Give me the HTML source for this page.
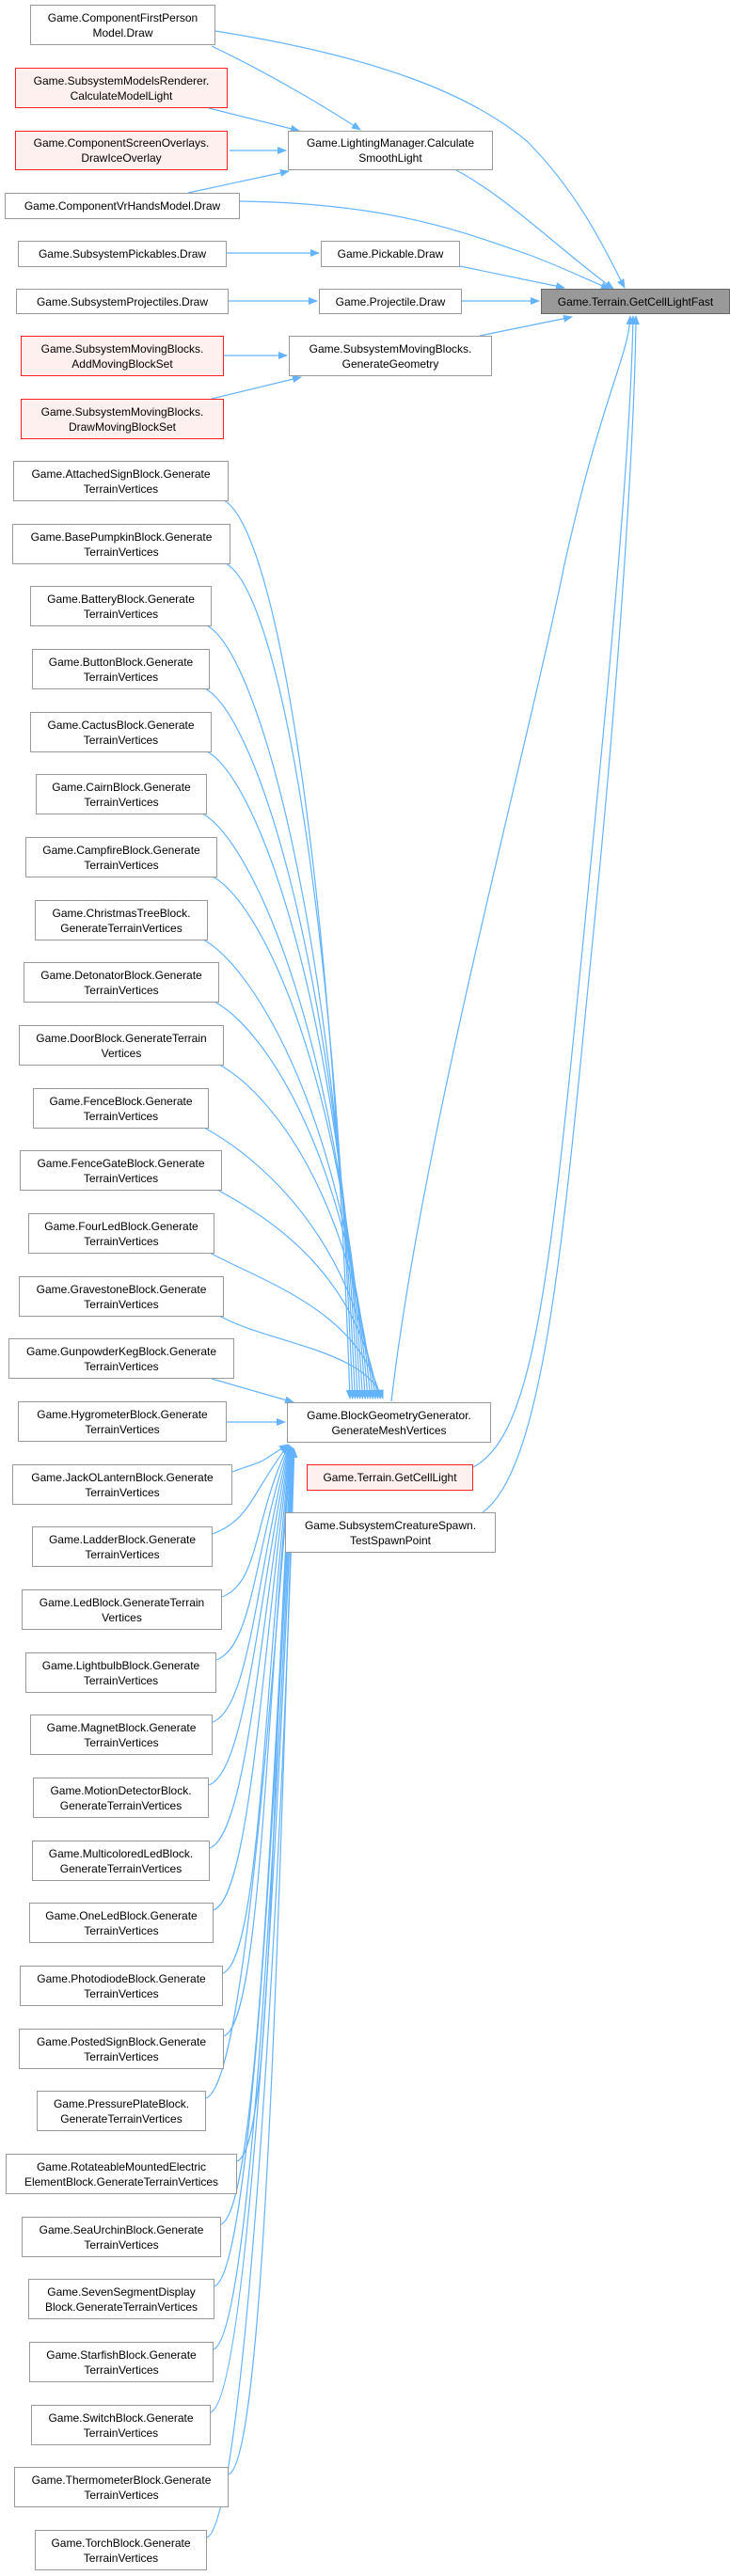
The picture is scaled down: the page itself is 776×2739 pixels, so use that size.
<!DOCTYPE html>
<html><head><meta charset="utf-8"><style>
html,body{margin:0;padding:0;background:#fff;}
body{width:776px;height:2739px;position:relative;overflow:hidden;font-family:"Liberation Sans",Arial,sans-serif;}
.b{position:absolute;box-sizing:border-box;border:1px solid #999;background:#fff;font-size:12px;line-height:16px;color:#000;text-align:center;display:flex;align-items:center;justify-content:center;white-space:nowrap;}
.r{border-color:#ff2020;background:#fff0f0;}
.g{background:#999;border-color:#666;}
svg{position:absolute;left:0;top:0;}
</style></head><body>
<svg width="776" height="2739" viewBox="0 0 776 2739">
<defs><marker id="a" markerWidth="10" markerHeight="8" refX="9" refY="4" orient="auto" markerUnits="userSpaceOnUse"><path d="M0,0 L10,4 L0,8 z" fill="#63b3ff"/></marker></defs>
<g fill="none" stroke="#63b3ff" stroke-width="1.2" marker-end="url(#a)">
<path d="M229,33 C400,60 500,100 560,150 C620,210 650,280 664,306"/>
<path d="M225,49 C280,75 340,110 383,138"/>
<path d="M222,115 L318,139"/>
<path d="M244,160 L304,160"/>
<path d="M200,205 L307,182"/>
<path d="M255,214 C420,216 500,250 560,270 C600,285 630,300 648,307"/>
<path d="M485,181 C540,210 600,270 652,307"/>
<path d="M241,269 L339,269"/>
<path d="M489,283 L600,306"/>
<path d="M243,320 L337,320"/>
<path d="M491,320 L573,320"/>
<path d="M238,378 L305,378"/>
<path d="M225,424 L320,401"/>
<path d="M510,357 L608,337"/>
<path d="M416,1490 C450,1200 560,800 600,600 C640,420 668,380 670,336"/>
<path d="M503,1560 C560,1530 580,1400 610,1100 C640,800 670,500 673,336"/>
<path d="M513,1608 C580,1560 600,1300 630,1000 C660,700 675,450 676,336"/>
</g>
<g id="lc" fill="none" stroke="#63b3ff" stroke-width="1.2" marker-end="url(#a)"></g>
</svg>
<div class="b" style="left:32px;top:5px;width:197px;height:43px">Game.ComponentFirstPerson<br>Model.Draw</div>
<div class="b r" style="left:16px;top:72px;width:226px;height:43px">Game.SubsystemModelsRenderer.<br>CalculateModelLight</div>
<div class="b r" style="left:16px;top:139px;width:226px;height:42px">Game.ComponentScreenOverlays.<br>DrawIceOverlay</div>
<div class="b" style="left:5px;top:205px;width:250px;height:28px">Game.ComponentVrHandsModel.Draw</div>
<div class="b" style="left:19px;top:256px;width:222px;height:28px">Game.SubsystemPickables.Draw</div>
<div class="b" style="left:17px;top:307px;width:226px;height:27px">Game.SubsystemProjectiles.Draw</div>
<div class="b r" style="left:22px;top:357px;width:216px;height:43px">Game.SubsystemMovingBlocks.<br>AddMovingBlockSet</div>
<div class="b r" style="left:22px;top:424px;width:216px;height:43px">Game.SubsystemMovingBlocks.<br>DrawMovingBlockSet</div>
<div class="b" style="left:306px;top:139px;width:218px;height:42px">Game.LightingManager.Calculate<br>SmoothLight</div>
<div class="b" style="left:341px;top:256px;width:148px;height:28px">Game.Pickable.Draw</div>
<div class="b" style="left:339px;top:307px;width:152px;height:27px">Game.Projectile.Draw</div>
<div class="b" style="left:307px;top:357px;width:216px;height:43px">Game.SubsystemMovingBlocks.<br>GenerateGeometry</div>
<div class="b g" style="left:575px;top:307px;width:201px;height:27px">Game.Terrain.GetCellLightFast</div>
<div class="b" style="left:305px;top:1491px;width:217px;height:43px">Game.BlockGeometryGenerator.<br>GenerateMeshVertices</div>
<div class="b r" style="left:326px;top:1557px;width:177px;height:28px">Game.Terrain.GetCellLight</div>
<div class="b" style="left:303px;top:1608px;width:224px;height:43px">Game.SubsystemCreatureSpawn.<br>TestSpawnPoint</div>
<div id="col"></div>
<script>
var L=[["Game.AttachedSignBlock.Generate","TerrainVertices",14,243],["Game.BasePumpkinBlock.Generate","TerrainVertices",13,245],["Game.BatteryBlock.Generate","TerrainVertices",32,225],["Game.ButtonBlock.Generate","TerrainVertices",34,223],["Game.CactusBlock.Generate","TerrainVertices",32,225],["Game.CairnBlock.Generate","TerrainVertices",38,220],["Game.CampfireBlock.Generate","TerrainVertices",27,231],["Game.ChristmasTreeBlock.","GenerateTerrainVertices",37,221],["Game.DetonatorBlock.Generate","TerrainVertices",25,233],["Game.DoorBlock.GenerateTerrain","Vertices",20,238],["Game.FenceBlock.Generate","TerrainVertices",35,222],["Game.FenceGateBlock.Generate","TerrainVertices",21,236],["Game.FourLedBlock.Generate","TerrainVertices",30,228],["Game.GravestoneBlock.Generate","TerrainVertices",20,238],["Game.GunpowderKegBlock.Generate","TerrainVertices",9,249],["Game.HygrometerBlock.Generate","TerrainVertices",19,241],["Game.JackOLanternBlock.Generate","TerrainVertices",13,247],["Game.LadderBlock.Generate","TerrainVertices",34,226],["Game.LedBlock.GenerateTerrain","Vertices",23,236],["Game.LightbulbBlock.Generate","TerrainVertices",27,230],["Game.MagnetBlock.Generate","TerrainVertices",32,226],["Game.MotionDetectorBlock.","GenerateTerrainVertices",35,222],["Game.MulticoloredLedBlock.","GenerateTerrainVertices",34,223],["Game.OneLedBlock.Generate","TerrainVertices",31,227],["Game.PhotodiodeBlock.Generate","TerrainVertices",21,237],["Game.PostedSignBlock.Generate","TerrainVertices",20,238],["Game.PressurePlateBlock.","GenerateTerrainVertices",39,219],["Game.RotateableMountedElectric","ElementBlock.GenerateTerrainVertices",6,252],["Game.SeaUrchinBlock.Generate","TerrainVertices",23,235],["Game.SevenSegmentDisplay","Block.GenerateTerrainVertices",30,228],["Game.StarfishBlock.Generate","TerrainVertices",31,227],["Game.SwitchBlock.Generate","TerrainVertices",33,224],["Game.ThermometerBlock.Generate","TerrainVertices",15,243],["Game.TorchBlock.Generate","TerrainVertices",37,220]];
var h="",p="";
for(var i=0;i<L.length;i++){var t=Math.round(490+i*66.67),x=L[i][2],w=L[i][3]-x,rx=L[i][3];
h+='<div class="b" style="left:'+x+'px;top:'+t+'px;width:'+w+'px;height:43px">'+L[i][0]+'<br>'+L[i][1]+'</div>';
var d;
if(i<14){var ex=372+i*2.7,sy=t+42;d="M"+(rx-5)+","+sy+" C"+(rx+50)+","+(sy+30)+" "+(ex-20)+","+(sy+(1488-sy)*0.4)+" "+ex+",1487";}
else if(i==14){d="M225,"+(t+43)+" L312,1491";}
else if(i==15){d="M241,1512 L303,1512";}
else{var sy2=t+8,ey=1536+(i-16)*0.3;d="M"+rx+","+sy2+" C"+(rx+40)+","+(sy2-15)+" "+(265+(i-16)*2)+","+(1560+(sy2-1560)*0.4)+" "+(306+(i-16)*0.4)+","+ey;}
p+='<path d="'+d+'"/>';}
document.getElementById("col").innerHTML=h;
document.getElementById("lc").innerHTML=p;
</script>
</body></html>
